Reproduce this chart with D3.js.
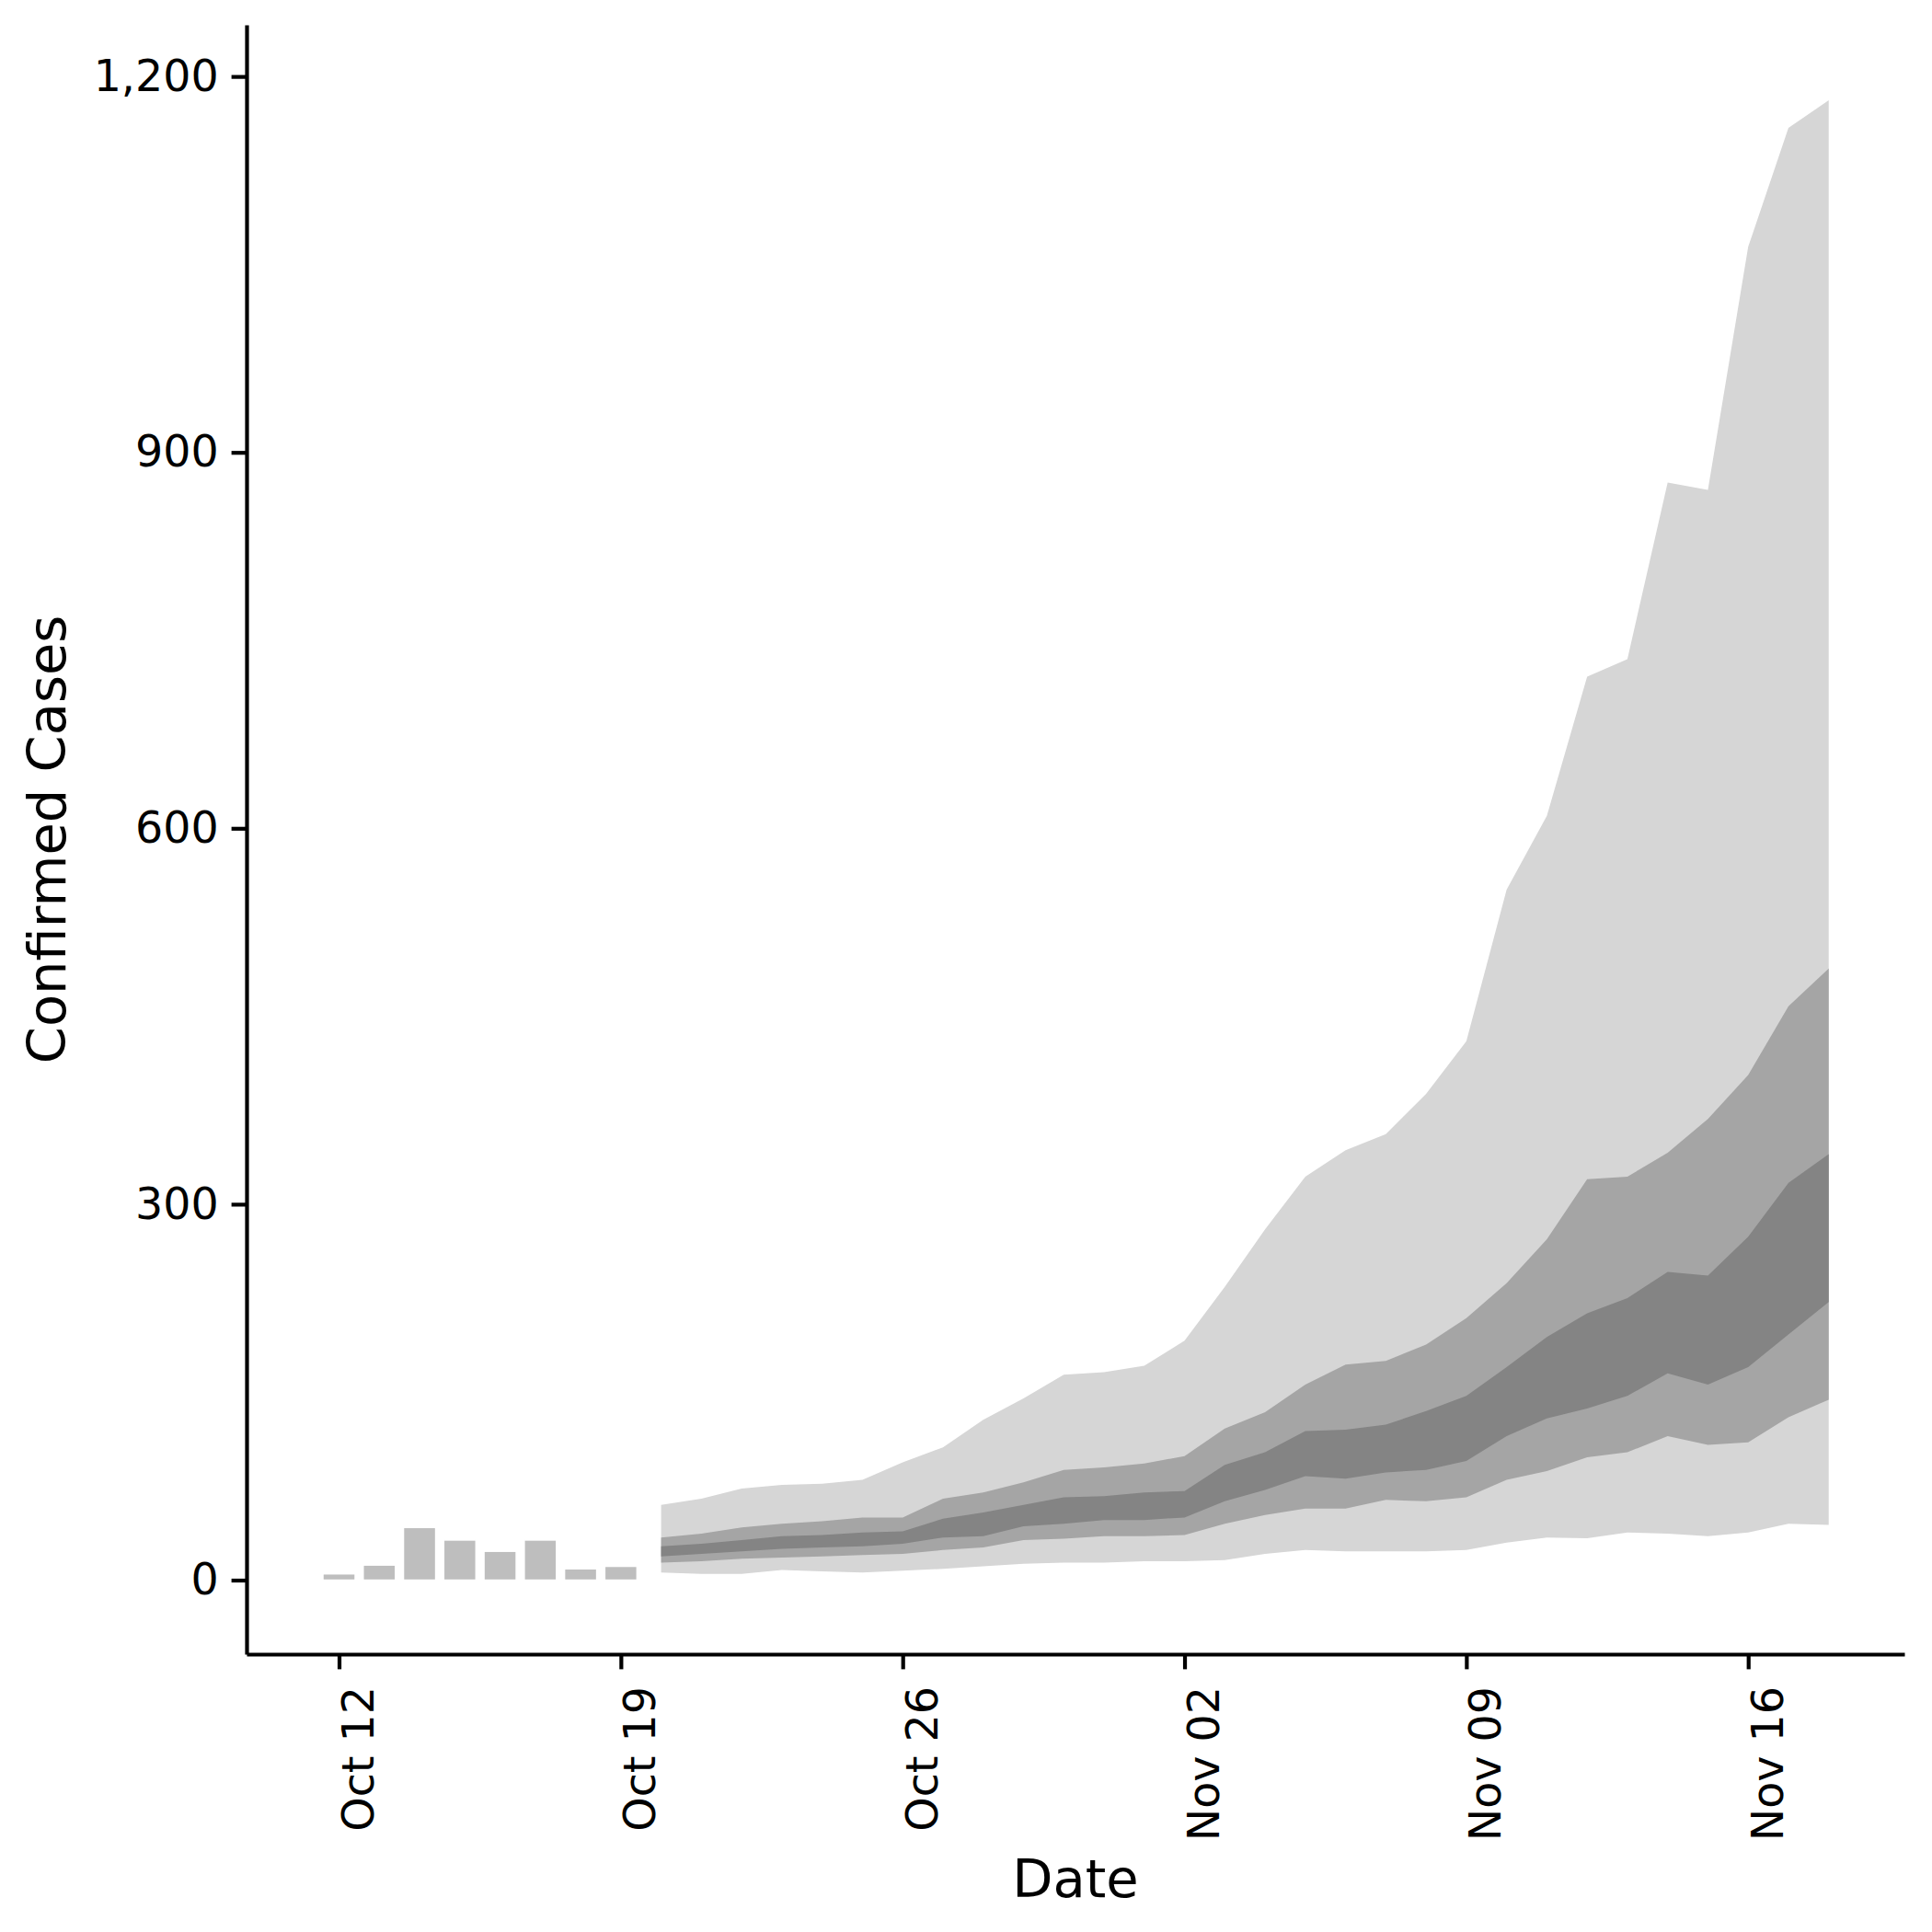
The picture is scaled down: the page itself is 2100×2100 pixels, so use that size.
<!DOCTYPE html>
<html>
  <head>
    <script src="https://d3js.org/d3.v7.min.js"></script>
    <style>
      body {
        margin: 0;
        background: #fff;
      }
      .axis text {
        font-family: "DejaVu Sans", sans-serif;
        font-size: 47.5px;
        fill: #000;
      }
      .axis path,
      .axis line {
        fill: none;
        stroke: #000;
        stroke-width: 4.2px;
      }
      .label {
        font-family: "DejaVu Sans", sans-serif;
        font-size: 57.5px;
        fill: #000;
      }
    </style>
  </head>
  <body>
    <script>
      // observed daily confirmed cases
      var obsDates = ["2020-10-12", "2020-10-13", "2020-10-14", "2020-10-15",
                      "2020-10-16", "2020-10-17", "2020-10-18", "2020-10-19"];
      var obsCases = [5, 12, 42, 32, 23, 32, 9, 11];

      // forecast, one value per day from Oct 20 to Nov 18
      var fcStart = "2020-10-20";
      var outerHigh = [60, 65, 73, 76, 77, 80, 94, 106, 128, 145,
                       164, 166, 171, 191, 234, 280, 322, 343, 356, 388,
                       430, 551, 610, 721, 735, 876, 870, 1064, 1159, 1181];
      var midHigh = [34, 37, 42, 45, 47, 50, 50, 65, 70, 78,
                     88, 90, 93, 99, 121, 134, 156, 172, 175, 188,
                     209, 237, 272, 320, 322, 341, 368, 403, 458, 488];
      var innerHigh = [27, 29, 32, 35, 36, 38, 39, 49, 54, 60,
                       66, 67, 70, 71, 92, 102, 119, 120, 124, 135,
                       147, 170, 194, 213, 225, 246, 243, 274, 317, 340];
      var innerLow = [19, 21, 23, 25, 26, 27, 29, 34, 35, 43,
                      45, 48, 48, 50, 63, 72, 83, 81, 86, 88,
                      95, 115, 129, 137, 147, 165, 156, 170, 196, 222];
      var midLow = [14, 15, 17, 18, 19, 20, 21, 24, 26, 32,
                    33, 35, 35, 36, 45, 52, 57, 57, 64, 63,
                    66, 80, 87, 98, 102, 115, 108, 110, 130, 144];
      var outerLow = [6, 5, 5, 8, 7, 6, 7.5, 9, 11, 13,
                      14, 14, 15, 15, 16, 21, 24, 23, 23, 23,
                      24, 30, 34, 33.5, 38, 37, 35, 38, 45, 44];

      var xTicks = ["2020-10-12", "2020-10-19", "2020-10-26",
                    "2020-11-02", "2020-11-09", "2020-11-16"];
      var yTicks = [0, 300, 600, 900, 1200];

      var parse = d3.utcParse("%Y-%m-%d");
      var day = 864e5;

      var width = 2100, height = 2100;
      var plotLeft = 268, plotRight = 2070, plotTop = 27, plotBottom = 1798;

      var svg = d3.select("body").append("svg")
        .attr("width", width)
        .attr("height", height);

      var first = parse(obsDates[0]);
      var x = d3.scaleUtc()
        .domain([new Date(+first - 2.297 * day), new Date(+first + 38.88 * day)])
        .range([plotLeft, plotRight]);
      var y = d3.scaleLinear()
        .domain([-59.1, 1241.2])
        .range([plotBottom, plotTop]);

      // observed bars
      var barW = x(new Date(+first + 0.8 * day)) - x(first);
      svg.selectAll(".bar")
        .data(obsDates.map(function(d, i) { return { date: parse(d), value: obsCases[i] }; }))
        .enter().append("rect")
        .attr("class", "bar")
        .attr("x", function(d) { return x(d.date) - barW / 2; })
        .attr("y", function(d) { return y(d.value); })
        .attr("width", barW)
        .attr("height", function(d) { return y(0) - y(d.value); })
        .attr("fill", "#bebebe")
        .attr("stroke", "#fff")
        .attr("stroke-width", 1.5);

      // forecast bands
      var fcDates = d3.utcDay.range(parse(fcStart), new Date(+parse(fcStart) + outerHigh.length * day));
      function band(lo, hi, color) {
        var pts = fcDates.map(function(d, i) { return { date: d, lo: lo[i], hi: hi[i] }; });
        var area = d3.area()
          .x(function(d) { return x(d.date); })
          .y0(function(d) { return y(d.lo); })
          .y1(function(d) { return y(d.hi); });
        svg.append("path")
          .datum(pts)
          .attr("d", area)
          .attr("fill", color);
      }
      band(outerLow, outerHigh, "#d6d6d6");
      band(midLow, midHigh, "#a5a5a5");
      band(innerLow, innerHigh, "#848484");

      // x axis
      var xAxis = svg.append("g")
        .attr("class", "x axis")
        .attr("transform", "translate(0," + plotBottom + ")")
        .call(d3.axisBottom(x)
          .tickValues(xTicks.map(parse))
          .tickFormat(d3.utcFormat("%b %d"))
          .tickSize(16.4)
          .tickSizeOuter(0));
      xAxis.selectAll("text")
        .style("text-anchor", "end")
        .attr("x", 0)
        .attr("y", 0)
        .attr("dy", "0.78em")
        .attr("transform", "translate(0,35) rotate(-90)");

      // y axis
      svg.append("g")
        .attr("class", "y axis")
        .attr("transform", "translate(" + plotLeft + ",0)")
        .call(d3.axisLeft(y)
          .tickValues(yTicks)
          .tickFormat(d3.format(","))
          .tickSize(16.4)
          .tickPadding(14)
          .tickSizeOuter(0));

      // axis labels
      svg.append("text")
        .attr("class", "label")
        .attr("text-anchor", "middle")
        .attr("x", (plotLeft + plotRight) / 2)
        .attr("y", 2062)
        .text("Date");
      svg.append("text")
        .attr("class", "label")
        .attr("text-anchor", "middle")
        .attr("transform", "translate(71," + (plotTop + plotBottom) / 2 + ") rotate(-90)")
        .text("Confirmed Cases");
    </script>
  </body>
</html>
